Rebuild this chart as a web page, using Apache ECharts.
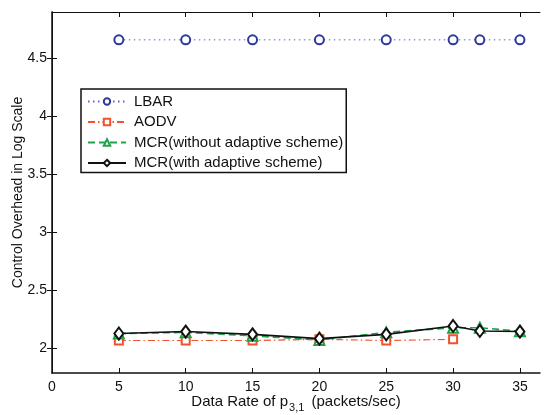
<!DOCTYPE html>
<html>
<head>
<meta charset="utf-8">
<script src="https://cdn.jsdelivr.net/npm/echarts@6/dist/echarts.min.js"></script>
<style>
  html, body { margin: 0; padding: 0; background: #fff; }
  #chart { width: 544px; height: 415px; }
</style>
</head>
<body>
<div id="chart"></div>
<script>
// data
const rates = [5, 10, 15, 20, 25, 30, 32, 35];
const lbar = [4.66, 4.66, 4.66, 4.66, 4.66, 4.66, 4.66, 4.66];
const aodv = [2.07, 2.07, 2.07, 2.08, 2.07, 2.08];
const mcrNoAdapt = [2.13, 2.14, 2.11, 2.075, 2.14, 2.18, 2.18, 2.15];
const mcrAdapt = [2.13, 2.147, 2.123, 2.086, 2.123, 2.195, 2.152, 2.147];
const xTicks = [0, 5, 10, 15, 20, 25, 30, 35];
const yTicks = [2, 2.5, 3, 3.5, 4, 4.5];

const font = 'Liberation Sans, Arial, sans-serif';

function pairs(xs, ys) {
  return ys.map((v, i) => [xs[i], v]);
}

const chart = echarts.init(document.getElementById('chart'));

const tickStyle = { inside: true, length: 5, lineStyle: { color: '#111', width: 1 } };

const option = {
  animation: false,
  textStyle: { fontFamily: font },
  grid: { left: 52, top: 12, right: 4, bottom: 42, outerBoundsMode: 'none', containLabel: false },
  legend: {
    left: 81,
    top: 89,
    orient: 'vertical',
    backgroundColor: '#fff',
    borderColor: '#111',
    borderWidth: 1.5,
    borderRadius: 0,
    padding: [5, 3, 2, 6],
    itemWidth: 38,
    itemHeight: 8,
    itemGap: 5.5,
    textStyle: { fontSize: 15, color: '#111', fontFamily: font, padding: [0, 0, 0, 3] },
    data: ['LBAR', 'AODV', 'MCR(without adaptive scheme)', 'MCR(with adaptive scheme)']
  },
  xAxis: [{
    type: 'value',
    min: 0,
    max: 36.5,
    name: '{n|Data Rate of p}{s|3,1}{n| (packets/sec)}',
    nameLocation: 'middle',
    nameGap: 17,
    nameMoveOverlap: false,
    nameTextStyle: {
      rich: {
        n: { fontSize: 15, color: '#111', fontFamily: font },
        s: { fontSize: 11, color: '#111', fontFamily: font, padding: [12, 3, 0, 1] }
      }
    },
    axisLine: { onZero: false, lineStyle: { color: '#111', width: 1.5 } },
    axisTick: Object.assign({ customValues: xTicks }, tickStyle),
    axisLabel: { customValues: xTicks, fontSize: 14, color: '#111', margin: 7 },
    splitLine: { show: false }
  }, {
    type: 'value',
    position: 'top',
    min: 0,
    max: 36.5,
    axisLine: { show: true, lineStyle: { color: '#111', width: 1 } },
    axisTick: Object.assign({ customValues: xTicks }, tickStyle),
    axisLabel: { show: false },
    splitLine: { show: false }
  }],
  yAxis: [{
    type: 'value',
    min: 1.79,
    max: 4.9,
    name: 'Control Overhead in Log Scale',
    nameLocation: 'middle',
    nameGap: 27,
    nameMoveOverlap: false,
    nameTextStyle: { fontSize: 14, color: '#111', fontFamily: font },
    axisLine: { show: true, onZero: false, lineStyle: { color: '#111', width: 1.5 } },
    axisTick: Object.assign({ customValues: yTicks }, tickStyle),
    axisLabel: { customValues: yTicks, fontSize: 14, color: '#111', margin: 5 },
    splitLine: { show: false }
  }, {
    type: 'value',
    position: 'right',
    min: 1.79,
    max: 4.9,
    axisLine: { show: true, lineStyle: { color: '#111', width: 1 } },
    axisTick: Object.assign({ customValues: yTicks }, tickStyle),
    axisLabel: { show: false },
    splitLine: { show: false }
  }],
  series: [{
    name: 'LBAR',
    type: 'line',
    data: pairs(rates, lbar),
    symbol: 'emptyCircle',
    symbolSize: 9,
    lineStyle: { color: '#5866c4', width: 1, type: [1.5, 3.5] },
    itemStyle: { color: '#2d3a9c', borderColor: '#2d3a9c', borderWidth: 2 }
  }, {
    name: 'AODV',
    type: 'line',
    data: pairs(rates, aodv),
    symbol: 'emptyRect',
    symbolSize: 8,
    lineStyle: { color: '#f0522c', width: 1.2, type: [7, 3, 1.5, 3] },
    itemStyle: { color: '#f0522c', borderColor: '#f0522c', borderWidth: 1.5 }
  }, {
    name: 'MCR(without adaptive scheme)',
    type: 'line',
    data: pairs(rates, mcrNoAdapt),
    symbol: 'emptyTriangle',
    symbolSize: 10,
    lineStyle: { color: '#1fa34a', width: 1.6, type: [7, 4] },
    itemStyle: { color: '#1fa34a', borderColor: '#1fa34a', borderWidth: 1.8 }
  }, {
    name: 'MCR(with adaptive scheme)',
    type: 'line',
    data: pairs(rates, mcrAdapt),
    symbol: 'emptyDiamond',
    symbolSize: [9, 12],
    lineStyle: { color: '#111', width: 1.6 },
    itemStyle: { color: '#111', borderColor: '#111', borderWidth: 1.8 }
  }]
};

chart.setOption(option);
</script>
</body>
</html>
